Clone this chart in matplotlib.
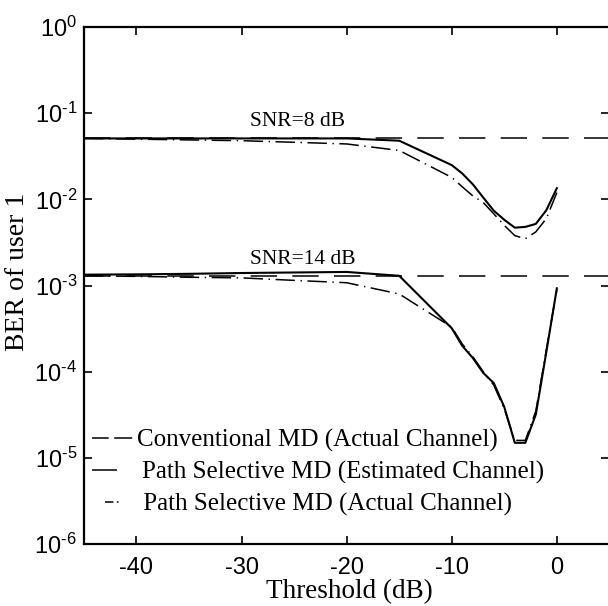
import numpy as np
import matplotlib
matplotlib.use("Agg")
import matplotlib.pyplot as plt
from matplotlib.lines import Line2D
from matplotlib.ticker import FuncFormatter, NullLocator

plt.rcParams['axes.unicode_minus'] = False
plt.rcParams['lines.scale_dashes'] = False
plt.rcParams['mathtext.fontset'] = 'custom'
plt.rcParams['mathtext.rm'] = 'Liberation Sans'

# threshold grid (dB)
thr = [-45, -40, -35, -30, -25, -20, -15, -10, -9, -8, -7, -6, -5, -4, -3, -2, -1, 0]

# conventional MD, actual channel (flat)
conv_snr8 = 0.052
conv_snr14 = 1.3e-3

# path selective MD, estimated channel
est_snr8 = [0.051, 0.051, 0.051, 0.051, 0.051, 0.051, 0.048, 0.025, 0.020, 0.015,
            0.0105, 0.0074, 0.0058, 0.0047, 0.0048, 0.0052, 0.0075, 0.0135]
est_snr14 = [1.34e-3, 1.35e-3, 1.37e-3, 1.40e-3, 1.42e-3, 1.44e-3, 1.30e-3, 3.2e-4, 2.0e-4,
             1.45e-4, 9.7e-5, 7.4e-5, 3.9e-5, 1.5e-5, 1.5e-5, 3.2e-5, 1.7e-4, 9.3e-4]

# path selective MD, actual channel
act_snr8 = [0.051, 0.050, 0.049, 0.048, 0.046, 0.044, 0.037, 0.018, 0.014, 0.011,
            0.0092, 0.0068, 0.0050, 0.0038, 0.0035, 0.0042, 0.0060, 0.012]
act_snr14 = [1.30e-3, 1.28e-3, 1.25e-3, 1.23e-3, 1.15e-3, 1.08e-3, 8.0e-4, 3.3e-4, 2.1e-4,
             1.5e-4, 1.0e-4, 7.0e-5, 3.7e-5, 1.6e-5, 1.6e-5, 3.5e-5, 1.8e-4, 9.0e-4]

xticks = [-40, -30, -20, -10, 0]
yticks = [1e-6, 1e-5, 1e-4, 1e-3, 1e-2, 1e-1, 1]
xlims = (-45, 5)

fig = plt.figure(figsize=(6.08, 6.06), dpi=100)
ax = fig.add_axes([0.138, 0.102, 0.8643, 0.8534])

dash_conv = (19, 11)
dash_dd = (14, 4, 1, 4)

for lvl in [conv_snr8, conv_snr14]:
    ax.plot(xlims, [lvl, lvl], color='k', lw=1.1, dashes=dash_conv)
ax.plot(thr, est_snr8, color='k', lw=1.5)
ax.plot(thr, est_snr14, color='k', lw=1.5)
ax.plot(thr, act_snr8, color='k', lw=1.1, dashes=dash_dd)
ax.plot(thr, act_snr14, color='k', lw=1.1, dashes=dash_dd)

ax.set_yscale('log')
ax.set_xlim(*xlims)
ax.set_ylim(1e-6, 1)
ax.set_xticks(xticks)
ax.set_yticks(yticks)
ax.yaxis.set_minor_locator(NullLocator())


def exp_fmt(v, pos):
    e = int(round(np.log10(v)))
    if e < 0:
        return r'$\mathregular{10^{\text{-}%d}}$' % (-e)
    return r'$\mathregular{10^{%d}}$' % e


ax.yaxis.set_major_formatter(FuncFormatter(exp_fmt))
ax.tick_params(direction='in', length=6, width=1.2, top=True, right=True, labelsize=17)
ax.tick_params(axis='x', pad=9)
ax.tick_params(axis='y', pad=5)
for lab in ax.get_xticklabels() + ax.get_yticklabels():
    lab.set_fontfamily('Liberation Sans')
for s in ax.spines.values():
    s.set_linewidth(1.6)

serif = 'Liberation Serif'
ax.text(-29.2, 0.062, 'SNR=8 dB', family=serif, fontsize=15.5, ha='left', va='bottom')
ax.text(-29.2, 1.55e-3, 'SNR=14 dB', family=serif, fontsize=15.5, ha='left', va='bottom')

fig.text(349.5 / 608, 1 - 592 / 606, 'Threshold (dB)', family=serif, fontsize=19.5,
         ha='center', va='center')
fig.text(18 / 608, 1 - 272 / 606, 'BER of user 1', family=serif, fontsize=20,
         ha='center', va='center', rotation=90)

handles = [Line2D([], [], color='k', lw=1.1, linestyle=(0, (12, 4, 13, 100))),
           Line2D([], [], color='k', lw=1.1, linestyle=(0, (18, 100))),
           Line2D([], [], color='k', lw=1.1, linestyle=(0, (0.001, 9.4, 6, 2.5, 1.2, 100)))]
labels = ['Conventional MD (Actual Channel)',
          '\u2009Path Selective MD (Estimated Channel)',
          ' Path Selective MD (Actual Channel)']
ax.legend(handles, labels, loc='upper left', bbox_to_anchor=(0.015, 0.222),
          frameon=False, handlelength=1.65, handletextpad=0.15, labelspacing=0.35,
          borderpad=0, borderaxespad=0, prop={'family': [serif, 'DejaVu Serif'], 'size': 18})

fig.savefig('out.png', dpi=100)
